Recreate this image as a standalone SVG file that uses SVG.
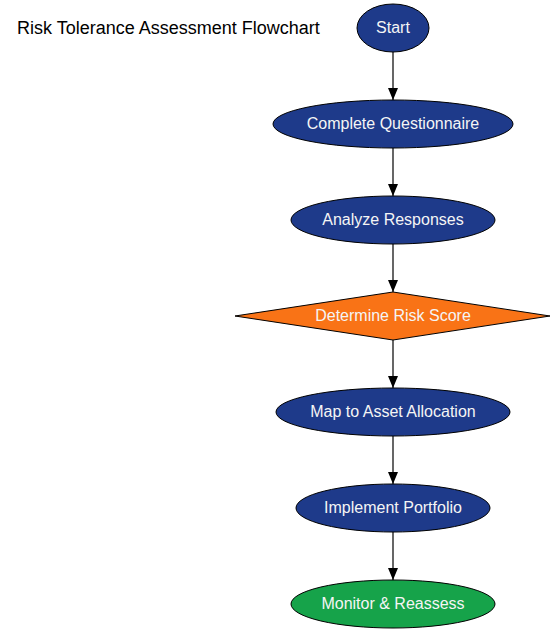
<svg xmlns="http://www.w3.org/2000/svg" width="554" height="635" viewBox="0 0 554 635">
<style>
.n{stroke:#000;stroke-width:1}
.b{fill:#1e3a8a}
.o{fill:#f97316}
.g{fill:#16a34a}
.t{font-family:"Liberation Sans",Arial,sans-serif;font-size:16px;fill:#f5f5f5;text-anchor:middle;dominant-baseline:central}
.e{stroke:#000;stroke-width:1.2;fill:none;marker-end:url(#ah)}
</style>
<defs>
<marker id="ah" markerWidth="12" markerHeight="12" refX="12" refY="5.5" orient="auto" markerUnits="userSpaceOnUse">
<path d="M0,0.5 L12,5.5 L0,10.5 Z" fill="#000"/>
</marker>
</defs>
<rect width="554" height="635" fill="#fff"/>
<text x="17" y="34" font-family="Liberation Sans,Arial,sans-serif" font-size="18" fill="#000">Risk Tolerance Assessment Flowchart</text>
<g id="edges">
<line class="e" x1="393" y1="52" x2="393" y2="100"/>
<line class="e" x1="393" y1="148" x2="393" y2="196"/>
<line class="e" x1="393" y1="244" x2="393" y2="292"/>
<line class="e" x1="393" y1="340" x2="393" y2="388"/>
<line class="e" x1="393" y1="436" x2="393" y2="484"/>
<line class="e" x1="393" y1="532" x2="393" y2="580"/>
</g>
<g id="start"><ellipse class="n b" cx="393" cy="28" rx="36" ry="24"/><text class="t" x="393" y="27">Start</text></g>
<g id="questionnaire"><ellipse class="n b" cx="393" cy="124" rx="120" ry="24"/><text class="t" x="393" y="123">Complete Questionnaire</text></g>
<g id="analyze"><ellipse class="n b" cx="393" cy="220" rx="102" ry="24"/><text class="t" x="393" y="219">Analyze Responses</text></g>
<g id="score"><polygon class="n o" points="393,292 550,316 393,340 235,316"/><text class="t" x="393" y="315">Determine Risk Score</text></g>
<g id="map"><ellipse class="n b" cx="393" cy="412" rx="117" ry="24"/><text class="t" x="393" y="411">Map to Asset Allocation</text></g>
<g id="implement"><ellipse class="n b" cx="393" cy="508" rx="97" ry="24"/><text class="t" x="393" y="507">Implement Portfolio</text></g>
<g id="monitor"><ellipse class="n g" cx="393" cy="604" rx="102" ry="24"/><text class="t" x="393" y="603">Monitor &amp; Reassess</text></g>
</svg>
